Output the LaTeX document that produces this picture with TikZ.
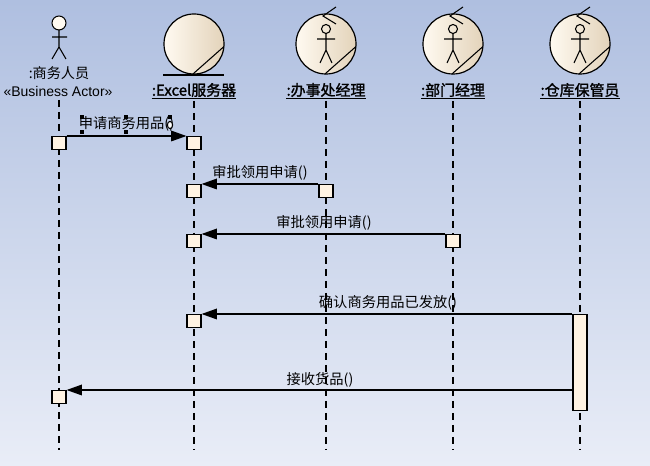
\documentclass[tikz,border=0pt]{standalone}
\usepackage{fontspec}
\setmainfont{Liberation Sans}
\newfontfamily\cjk{Noto Sans CJK SC}
\newfontfamily\cjkb[FakeBold=1.6]{Noto Sans CJK SC}
\usetikzlibrary{arrows.meta,calc}
\definecolor{bgtop}{HTML}{AFBFE0}
\definecolor{bgbot}{HTML}{E9EDF7}
\definecolor{actfill}{HTML}{FFF3E3}
\definecolor{iconA}{HTML}{FFFAF1}
\definecolor{iconB}{HTML}{E3D3BA}
\tikzset{
  lifeline/.style={draw=black, line width=1.1pt, dash pattern=on 5.25pt off 3.75pt},
  actbox/.style={draw=black, fill=actfill, line width=0.9pt, minimum width=10.5pt, minimum height=9.75pt, inner sep=0pt, anchor=north},
  tallbox/.style={actbox, minimum height=72pt},
  msg/.style={draw=black, line width=0.9pt, -{Triangle[length=11.5pt,width=8pt]}},
  msglabel/.style={font=\cjk\fontsize{10.7}{12}\selectfont, inner sep=0pt},
  headlabel/.style={font=\cjkb\fontsize{11.2}{13}\selectfont, inner sep=0pt},
  actorlabel/.style={font=\cjk\fontsize{10.6}{12}\selectfont, inner sep=0pt},
  stereolabel/.style={font=\fontsize{10.5}{12}\selectfont, inner sep=0pt},
  iconcircle/.style={draw=black, line width=0.9pt, left color=iconA, right color=iconB},
  fig/.style={draw=black, line width=0.8pt},
  handle/.style={fill=black, minimum size=2.6pt, inner sep=0pt},
}
\begin{document}
\begin{tikzpicture}[x=0.75pt,y=-0.75pt]
\fill[top color=bgtop, bottom color=bgbot] (0,0) rectangle (650,466);
\useasboundingbox (0,0) rectangle (650,466);

% ---------- actor ----------
\draw[fig, fill=iconA] (59,23) circle (7);
\draw[fig] (59,30) -- (59,47) (52,37) -- (67,37) (52,59) -- (59,47) -- (66,59);
\node[actorlabel] (actname) at (59,73) {:商务人员};
\node[stereolabel] (actster) at (58,92) {«Business Actor»};

% ---------- entity: Excel server ----------
\coordinate (ce) at (194,44);
\shade[iconcircle] (ce) circle (30);
\draw[fig] ($(ce)+(92:30)$) -- ($(ce)+(5:30)$);
\draw[fig] (163,75) -- (224,75);
\node[headlabel] (lblE) at (194,90) {:Excel服务器};

% ---------- workers ----------
\foreach \cx/\nm in {326/B,453/D,580/W}{
  \coordinate (c\nm) at (\cx,44);
  \shade[iconcircle] (c\nm) circle (30);
  \draw[fig] ($(c\nm)+(92:30)$) -- ($(c\nm)+(5:30)$);
  \draw[fig] ($(c\nm)+(10,-37)$) -- ($(c\nm)+(-3,-28)$) -- ($(c\nm)+(10,-20)$);
  \draw[fig] ($(c\nm)+(0,-15)$) circle (4.5);
  \draw[fig] ($(c\nm)+(0,-10.5)$) -- ($(c\nm)+(0,6)$)
             ($(c\nm)+(-9,-5)$) -- ($(c\nm)+(9,-5)$)
             ($(c\nm)+(-6,19)$) -- ($(c\nm)+(0,6)$) -- ($(c\nm)+(6,19)$);
}
\node[headlabel] (lblB) at (326,90) {:办事处经理};
\node[headlabel] (lblD) at (453,90) {:部门经理};
\node[headlabel] (lblW) at (580,90) {:仓库保管员};
\foreach \n in {lblE,lblB,lblD,lblW}{
  \draw[line width=0.9pt] ($(\n.south west)+(0,1)$) -- ($(\n.south east)+(0,1)$);
}

% ---------- lifelines ----------
\coordinate (endA) at (59,450);
\coordinate (endE) at (194,450);
\coordinate (endB) at (326,450);
\coordinate (endD) at (453,450);
\coordinate (endW) at (580,450);
\draw[lifeline] (59,100) -- (endA);
\draw[lifeline] (194,101) -- (endE);
\draw[lifeline] (326,101) -- (endB);
\draw[lifeline] (453,101) -- (endD);
\draw[lifeline] (580,101) -- (endW);

% ---------- activations ----------
\node[actbox] (a1) at (59,136) {};
\node[actbox] (e1) at (194,136) {};
\node[actbox] (e2) at (194,184) {};
\node[actbox] (b2) at (326,184) {};
\node[actbox] (e3) at (194,234) {};
\node[actbox] (d3) at (453,234) {};
\node[actbox] (e4) at (194,314) {};
\node[tallbox] (w4) at (580,314) {};
\node[actbox] (a5) at (59,390) {};
\coordinate (w5) at ($(w4.north west)+(0,76)$);

% ---------- messages ----------
\draw[msg] (a1.north east) -- (e1.north west);
\node[msglabel] (m1) at (126.5,124) {申请商务用品()};
\draw[msg] (b2.north west) -- (e2.north east);
\node[msglabel] (m2) at (260,173) {审批领用申请()};
\draw[msg] (d3.north west) -- (e3.north east);
\node[msglabel] (m3) at (324,223) {审批领用申请()};
\draw[msg] (w4.north west) -- (e4.north east);
\node[msglabel] (m4) at (388,303) {确认商务用品已发放()};
\draw[msg] (w5) -- (a5.north east);
\node[msglabel] (m5) at (320,380) {接收货品()};

% selection handles on first label
\node[handle] (h1) at (82,117) {};
\node[handle] (h2) at (82,132) {};
\node[handle] (h3) at (126,117) {};
\node[handle] (h4) at (126,132) {};
\node[handle] (h5) at (170,117) {};
\draw[line width=0.8pt, fill=white] (170,125) ellipse (2.6 and 3.6);
\end{tikzpicture}
\end{document}
